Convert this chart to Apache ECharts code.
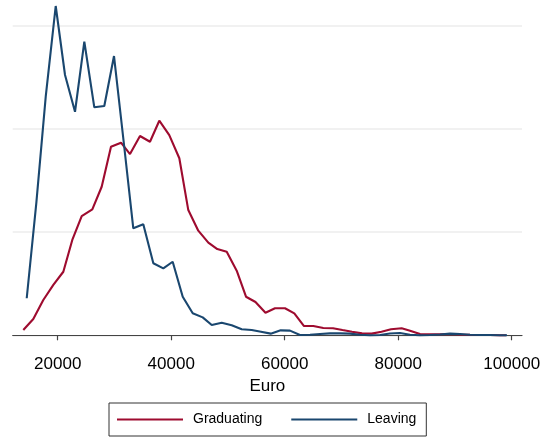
<!DOCTYPE html>
<html>
<head>
<meta charset="utf-8">
<script src="https://cdn.jsdelivr.net/npm/echarts@6/dist/echarts.min.js"></script>
<style>
html,body{margin:0;padding:0;background:#fff;}
#chart{width:541px;height:439px;}
</style>
</head>
<body>
<div id="chart"></div>
<script>
// Income distribution (kernel density, units of 1e-5 per euro)
const seriesNames = ['Graduating', 'Leaving'];
const xTickValues = [20000, 40000, 60000, 80000, 100000];
const xAxisTitle = 'Euro';

const graduatingX = [13940, 15700, 17460, 19230, 20990, 22570, 24230, 26100, 27750, 29390,
  31150, 32740, 34500, 36260, 37900, 39660, 41430, 43010, 44770, 46540,
  48120, 49780, 51540, 53180, 54850, 56610, 58290, 60050, 61690, 63400,
  65040, 66800, 68510, 70180, 71860, 73620, 75330, 77050, 78730, 80610,
  82080, 83840, 85600, 87360, 89120, 90890, 92650, 94410, 96170, 97930, 99000];
const graduatingY = [0.051, 0.158, 0.342, 0.488, 0.616, 0.924, 1.156, 1.221, 1.440, 1.828,
  1.867, 1.757, 1.932, 1.876, 2.080, 1.941, 1.716, 1.214, 1.014, 0.898,
  0.836, 0.810, 0.626, 0.374, 0.323, 0.219, 0.262, 0.262, 0.213, 0.090,
  0.090, 0.071, 0.068, 0.051, 0.035, 0.019, 0.016, 0.035, 0.058, 0.068,
  0.045, 0.013, 0.010, 0.010, 0.013, 0.008, 0.005, 0.003, 0.003, 0.001, 0.000];

const leavingX = [14540, 16230, 17890, 19650, 21290, 23050, 24690, 26450, 28210, 29920,
  31650, 33320, 35080, 36850, 38610, 40260, 42030, 43790, 45550, 47140,
  48900, 50660, 52420, 54180, 55820, 57530, 59290, 60930, 62690, 64460,
  66220, 67980, 69740, 71500, 73270, 75030, 76790, 78550, 80310, 82080,
  83840, 85600, 87360, 89120, 90890, 92650, 94410, 96170, 97930, 99170];
const leavingY = [0.359, 1.282, 2.313, 3.192, 2.523, 2.167, 2.846, 2.210, 2.223, 2.707,
  1.864, 1.037, 1.076, 0.698, 0.649, 0.713, 0.374, 0.213, 0.174, 0.100,
  0.122, 0.097, 0.058, 0.051, 0.035, 0.016, 0.048, 0.045, 0.003, 0.006,
  0.013, 0.019, 0.019, 0.016, 0.006, 0.000, 0.003, 0.017, 0.022, 0.006,
  0.001, 0.003, 0.008, 0.016, 0.013, 0.006, 0.003, 0.003, 0.001, 0.000];

const colors = ['#9e0b2f', '#1a476f'];
const FONT = "'Liberation Sans', Arial, Helvetica, sans-serif";
const LINE_ICON = 'path://M0,0 L66,0 L66,2 L0,2 Z';

function pairs(xs, ys) { return xs.map((x, i) => [x, ys[i]]); }

const chart = echarts.init(document.getElementById('chart'), null, {renderer: 'canvas'});
chart.setOption({
  animation: false,
  backgroundColor: '#ffffff',
  color: colors,
  grid: {left: 12.7, right: 19, top: 25.8, bottom: 103.7, outerBoundsMode: 'none'},
  xAxis: {
    type: 'value',
    min: 12070,
    max: 101810,
    offset: 10.7,
    name: xAxisTitle,
    nameLocation: 'middle',
    nameGap: 30,
    nameTextStyle: {fontSize: 17, color: '#000', fontFamily: FONT},
    axisLine: {show: true, lineStyle: {color: '#444', width: 1.2}},
    axisTick: {show: true, length: 5, lineStyle: {color: '#444', width: 1.2}, customValues: xTickValues},
    axisLabel: {fontSize: 17, color: '#000', fontFamily: FONT, margin: 10, customValues: xTickValues,
      formatter: v => String(v)},
    splitLine: {show: false}
  },
  yAxis: {
    type: 'value',
    min: 0,
    max: 3,
    interval: 1,
    axisLine: {show: false},
    axisTick: {show: false},
    axisLabel: {show: false},
    splitLine: {show: true, lineStyle: {color: '#ececec', width: 1.6}}
  },
  legend: {
    left: 109,
    top: 403,
    orient: 'horizontal',
    padding: [9.5, 10, 9.5, 8],
    borderColor: '#333',
    borderWidth: 1,
    itemWidth: 66,
    itemHeight: 14,
    itemGap: 29,
    symbolKeepAspect: true,
    textStyle: {fontSize: 14, color: '#000', fontFamily: FONT, padding: [0, 0, 0, 5]},
    data: [
      {name: seriesNames[0], icon: LINE_ICON, itemStyle: {color: colors[0]}},
      {name: seriesNames[1], icon: LINE_ICON, itemStyle: {color: colors[1]}}
    ]
  },
  series: [
    {name: seriesNames[0], type: 'line', data: pairs(graduatingX, graduatingY), symbol: 'none', showSymbol: false,
      clip: false, lineStyle: {width: 2.1, color: colors[0]}, itemStyle: {color: colors[0]}},
    {name: seriesNames[1], type: 'line', data: pairs(leavingX, leavingY), symbol: 'none', showSymbol: false,
      clip: false, lineStyle: {width: 2.1, color: colors[1]}, itemStyle: {color: colors[1]}}
  ]
});
</script>
</body>
</html>
